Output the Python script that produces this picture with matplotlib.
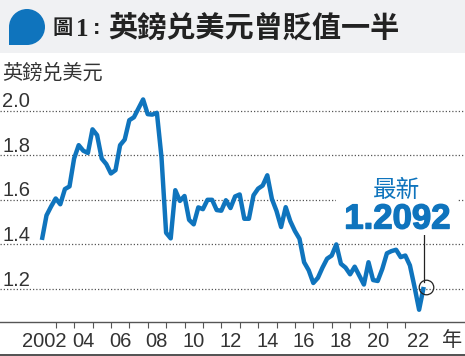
import numpy as np
import matplotlib.pyplot as plt
import matplotlib.patheffects as pe
from matplotlib.patches import Circle, Rectangle

plt.rcParams['font.family'] = ['Liberation Sans', 'Noto Sans CJK TC', 'DejaVu Sans']

# Quarterly GBP/USD
first_year = 2002.25
rates = [1.42, 1.53, 1.57, 1.606, 1.58, 1.648, 1.66, 1.785, 1.845, 1.82,
         1.81, 1.916, 1.89, 1.785, 1.76, 1.718, 1.733, 1.845, 1.87, 1.957,
         1.97, 2.01, 2.05, 1.984, 1.982, 1.99, 1.79, 1.452, 1.427, 1.643,
         1.595, 1.617, 1.51, 1.49, 1.566, 1.558, 1.60, 1.60, 1.554, 1.551,
         1.598, 1.563, 1.615, 1.624, 1.515, 1.515, 1.62, 1.65, 1.664, 1.71,
         1.604, 1.55, 1.478, 1.567, 1.504, 1.46, 1.425, 1.32, 1.284, 1.227,
         1.25, 1.296, 1.336, 1.35, 1.40, 1.313, 1.296, 1.266, 1.30, 1.26,
         1.22, 1.32, 1.24, 1.236, 1.29, 1.36, 1.37, 1.376, 1.343, 1.35,
         1.306, 1.21, 1.107, 1.2092]
y_ticks = [1.2, 1.4, 1.6, 1.8, 2.0]
year_labels = ['2002', '04', '06', '08', '10', '12', '14', '16', '18', '20', '22']
label_years = [2002, 2004, 2006, 2008, 2010, 2012, 2014, 2016, 2018, 2020, 2022]
tick_years = list(range(2003, 2023))

years = first_year + 0.25 * np.arange(len(rates))

W, H = 465, 356
BLUE = '#0f74bd'
DARK = '#333333'
axis_y = 321.7
top_y = 53

fig = plt.figure(figsize=(W / 100, H / 100), dpi=100)

# overlay in pixel coordinates for the header and the texts
back = fig.add_axes([0, 0, 1, 1], zorder=0)
back.set_xlim(0, W)
back.set_ylim(H, 0)
back.axis('off')

ax = fig.add_axes([0, 1 - axis_y / H, 1, (axis_y - top_y) / H], zorder=1)
ax.patch.set_alpha(0)
ax.set_xlim(2003 - 55.7 / 18.4, 2003 + (W - 55.7) / 18.4)
per_px = 0.2 / 44.6
ax.set_ylim(1.2 - (axis_y - 289) * per_px, 1.2 + (289 - top_y) * per_px)

for s in ['top', 'left', 'right']:
    ax.spines[s].set_visible(False)
ax.spines['bottom'].set_color('#555555')
ax.spines['bottom'].set_linewidth(1.0)
ax.set_yticks([])
ax.set_xticks(tick_years)
ax.set_xticklabels([])
ax.tick_params(axis='x', length=4.5, width=0.8, color='#555555')

for v in y_ticks:
    ax.axhline(v, color='#555555', lw=0.9, ls=(0, (1, 1.6)), zorder=1)
    ax.annotate(f'{v:.1f}', (0, v), xycoords=('axes fraction', 'data'), xytext=(1.5, -0.5),
                textcoords='offset points', ha='left', va='bottom', fontsize=14.5, color=DARK)

ax.plot(years, rates, color=BLUE, lw=3.2, solid_joinstyle='round', solid_capstyle='butt', zorder=3)

for yr, lab in zip(label_years, year_labels):
    # the first and last labels sit a little off their year's centre
    nudge = {'2002': -1.5, '22': 2.5}.get(lab, 0)
    ax.annotate(lab, (yr + 0.5, 0), xycoords=('data', 'axes fraction'), xytext=(nudge, -14),
                textcoords='offset points', ha='center', va='center', fontsize=14.5, color=DARK)

# latest value marker and leader
ax.plot([years[-1] + 0.12], [rates[-1]], marker='o', ms=10.5, mfc='none', mec='#222222', mew=0.9, zorder=4)
back.plot([424.3, 424.3], [235, 281.7], color='#222222', lw=0.9, zorder=5)

# bottom rule
back.plot([0, W], [355, 355], color=DARK, lw=1.2)

# header
back.add_patch(Rectangle((0, 0), W, top_y, color='#f0f1f3', lw=0))
back.add_patch(Circle((27, 27), 18, color=BLUE, lw=0))
back.add_patch(Rectangle((9, 27), 18, 17.5, color=BLUE, lw=0))
back.text(52, 29, '圖', fontsize=14.5, fontweight='bold', color='#222222', ha='left', va='center')
back.text(76, 29, '1', fontsize=18, fontweight='bold', color='#222222', ha='left', va='center',
          family='Liberation Serif')
back.text(97, 29, ':', fontsize=16, fontweight='bold', color='#222222', ha='center', va='center')
back.text(108, 29, '英鎊兑美元曾貶值一半', fontsize=21, fontweight='bold', color='#222222',
          ha='left', va='center', family=['Noto Sans CJK TC', 'DejaVu Sans'])

back.text(2, 73, '英鎊兑美元', fontsize=14.5, color=DARK, ha='left', va='center',
          family=['Noto Sans CJK TC', 'DejaVu Sans'])
back.text(452, 340, '年', fontsize=14.5, color=DARK, ha='center', va='center',
          family=['Noto Sans CJK TC', 'DejaVu Sans'])

# white block that breaks the 1.6 grid line behind the callout
cover = fig.add_axes([336 / W, 1 - 235 / H, (457 - 336) / W, (235 - 172) / H], zorder=2, facecolor='white')
cover.set_xticks([])
cover.set_yticks([])
for s in cover.spines.values():
    s.set_visible(False)

top = fig.add_axes([0, 0, 1, 1], zorder=3)
top.patch.set_alpha(0)
top.set_xlim(0, W)
top.set_ylim(H, 0)
top.axis('off')
top.text(397, 190, '最新', fontsize=17, color=BLUE, ha='center', va='center',
         family=['Noto Sans CJK TC', 'DejaVu Sans'])
top.text(397.5, 219, f'{rates[-1]:.4f}', fontsize=25, fontweight='bold', color=BLUE, ha='center', va='center',
         path_effects=[pe.withStroke(linewidth=1.0, foreground=BLUE)])

fig.savefig('out.png', dpi=100)
